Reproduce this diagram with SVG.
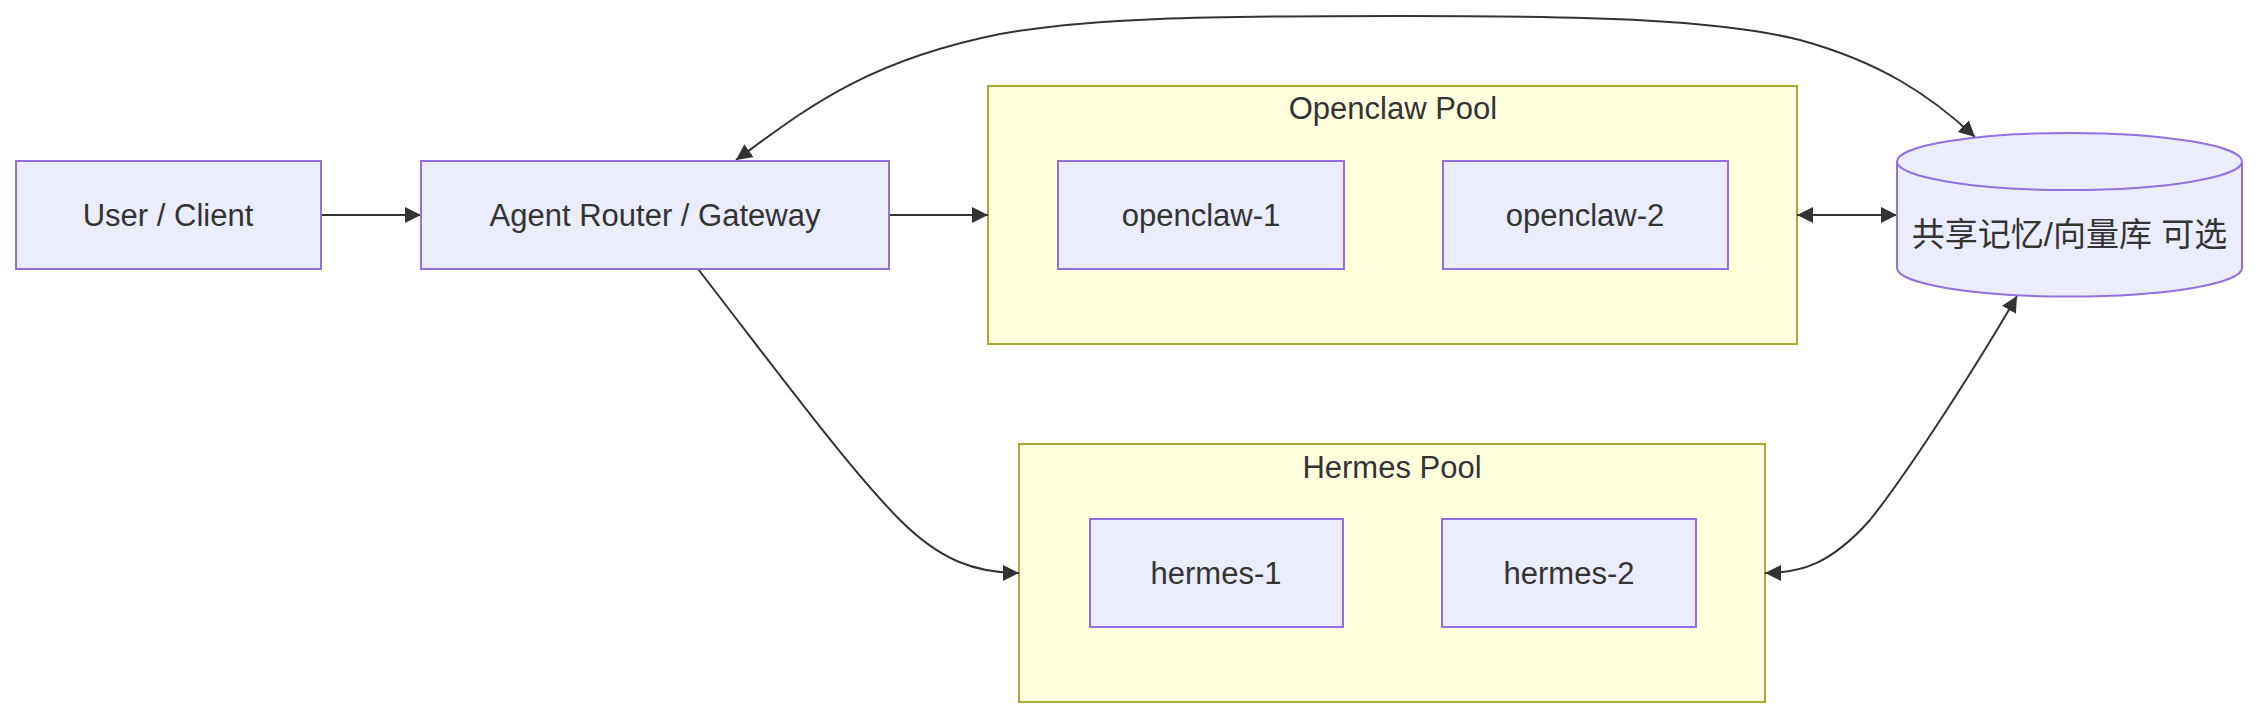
<svg xmlns="http://www.w3.org/2000/svg" width="2258" height="718" viewBox="0 0 2258 718">
<defs>
<marker id="arr" viewBox="0 0 10 10" refX="10" refY="5" markerUnits="userSpaceOnUse" markerWidth="16" markerHeight="16" orient="auto-start-reverse">
<path d="M0,0 L10,5 L0,10 z" fill="#333333"/>
</marker>
</defs>
<style>
.node{fill:#ECECFF;stroke:#9370DB;stroke-width:2}
.cluster{fill:#FFFFDE;stroke:#AAAA33;stroke-width:2}
.lbl{font-family:"Liberation Sans","Noto Sans CJK SC",sans-serif;font-size:31px;fill:#333333;text-anchor:middle}
.cjk{font-size:33px}
.edge{fill:none;stroke:#333333;stroke-width:2}
</style>
<rect width="2258" height="718" fill="#ffffff"/>
<g id="cluster-openclaw">
<rect class="cluster" x="988" y="86" width="809" height="258"/>
<text class="lbl" x="1393" y="119">Openclaw Pool</text>
</g>
<g id="cluster-hermes">
<rect class="cluster" x="1019" y="444" width="746" height="258"/>
<text class="lbl" x="1392" y="478">Hermes Pool</text>
</g>
<g id="connectors">
<path class="edge" d="M321,215 L421,215" marker-end="url(#arr)"/>
<path class="edge" d="M889,215 L988,215" marker-end="url(#arr)"/>
<path class="edge" d="M1797,215 L1897,215" marker-start="url(#arr)" marker-end="url(#arr)"/>
<path class="edge" d="M698,269 C780,375 850,470 900,520 C940,560 975,573 1019,573" marker-end="url(#arr)"/>
<path class="edge" d="M2017,296 C1980,360 1910,470 1870,520 C1830,565 1800,573 1765,573" marker-start="url(#arr)" marker-end="url(#arr)"/>
<path class="edge" d="M736,160 C800,114 860,62 1000,34 C1090,18 1200,16 1400,16 C1600,16 1720,20 1800,40 C1880,62 1930,95 1975,137" marker-start="url(#arr)" marker-end="url(#arr)"/>
</g>
<g id="user">
<rect class="node" x="16" y="161" width="305" height="108"/>
<text class="lbl" x="168" y="226">User / Client</text>
</g>
<g id="gateway">
<rect class="node" x="421" y="161" width="468" height="108"/>
<text class="lbl" x="655" y="226">Agent Router / Gateway</text>
</g>
<g id="openclaw-1">
<rect class="node" x="1058" y="161" width="286" height="108"/>
<text class="lbl" x="1201" y="226">openclaw-1</text>
</g>
<g id="openclaw-2">
<rect class="node" x="1443" y="161" width="285" height="108"/>
<text class="lbl" x="1585" y="226">openclaw-2</text>
</g>
<g id="hermes-1">
<rect class="node" x="1090" y="519" width="253" height="108"/>
<text class="lbl" x="1216" y="584">hermes-1</text>
</g>
<g id="hermes-2">
<rect class="node" x="1442" y="519" width="254" height="108"/>
<text class="lbl" x="1569" y="584">hermes-2</text>
</g>
<g id="memory">
<path class="node" d="M1897,161.5 a172.5,28.5 0 0,0 345,0 a172.5,28.5 0 0,0 -345,0 l0,106.5 a172.5,28.5 0 0,0 345,0 l0,-106.5"/>
<text class="lbl cjk" x="2069.5" y="246">共享记忆/向量库 可选</text>
</g>
</svg>
